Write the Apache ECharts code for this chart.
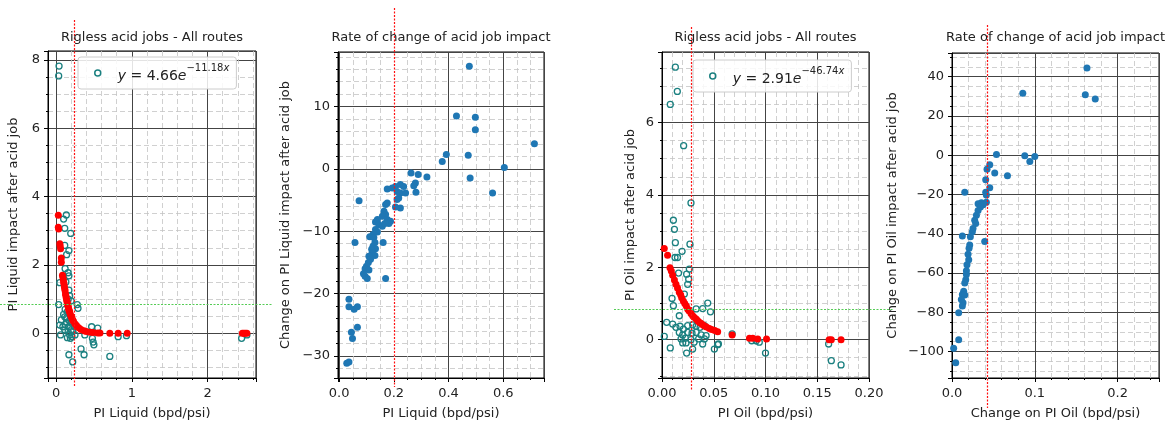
<!DOCTYPE html>
<html>
<head>
<meta charset="utf-8">
<script src="https://cdn.jsdelivr.net/npm/echarts@6/dist/echarts.min.js"></script>
<style>
  html, body { margin: 0; padding: 0; background: #fff; }
  #chart { width: 1173px; height: 425px; }
</style>
</head>
<body>
<div id="chart"></div>
<script>
// ---- data ----
const titles = ['Rigless acid jobs - All routes', 'Rate of change of acid job impact',
  'Rigless acid jobs - All routes', 'Rate of change of acid job impact']
const xNames = ['PI Liquid (bpd/psi)', 'PI Liquid (bpd/psi)', 'PI Oil (bpd/psi)', 'Change on PI Oil (bpd/psi)']
const yNames = ['PI Liquid impact after acid job', 'Change on PI Liquid impact after acid job',
  'PI Oil impact after acid job', 'Change on PI Oil impact after acid job']
const fitCoef = ['4.66', '2.91']
const fitExp = ['\u221211.18', '\u221246.74']

// cut-off reference lines
const cutX = [0.24, 0.2, 0.028, 0.042]
const cutY = [0.85, null, 0.85, null]

// PI Liquid: measured impact (open circles)
const liquidImpact = [
  [0.04, 7.82], [0.035, 7.53],
  [0.136, 3.46], [0.10, 3.34], [0.115, 3.07], [0.194, 2.92], [0.115, 2.57], [0.17, 2.42], [0.14, 2.3],
  [0.12, 1.89], [0.16, 1.77], [0.17, 1.68], [0.05, 1.48], [0.13, 1.5], [0.17, 1.26], [0.18, 1.1],
  [0.035, 0.84], [0.28, 0.84], [0.29, 0.73], [0.2, 0.95], [0.16, 1.0], [0.12, 0.7],
  [0.15, 0.63], [0.115, 0.48], [0.1, 0.55], [0.14, 0.45], [0.07, 0.39], [0.05, 0.24], [0.18, 0.35],
  [0.136, 0.32], [0.17, 0.19], [0.2, 0.10], [0.22, 0.05], [0.16, 0.05], [0.12, 0.25], [0.2, 0.3], [0.24, 0.2],
  [0.18, -0.05], [0.21, -0.1], [0.25, -0.05], [0.15, -0.13], [0.19, -0.15], [0.115, 0.1], [0.09, 0.19], [0.06, -0.05],
  [0.38, -0.05], [0.47, 0.19], [0.55, 0.15], [0.48, -0.15], [0.49, -0.26], [0.5, -0.34],
  [0.33, -0.46], [0.37, -0.63], [0.17, -0.63], [0.22, -0.84], [0.71, -0.68], [0.82, -0.1], [0.93, -0.07],
  [2.45, -0.15], [2.52, -0.05]
]
// PI Liquid: fitted impact (red)
const liquidFit = [
  [0.03, 3.45], [0.03, 3.1], [0.035, 3.05], [0.05, 2.62], [0.055, 2.55], [0.06, 2.47], [0.07, 2.2], [0.07, 2.08],
  [0.085, 1.7], [0.09, 1.65], [0.095, 1.58], [0.1, 1.5], [0.105, 1.44], [0.11, 1.36], [0.115, 1.3], [0.12, 1.24],
  [0.125, 1.15], [0.13, 1.1], [0.135, 1.03], [0.14, 0.98], [0.145, 0.92], [0.15, 0.87], [0.155, 0.82], [0.16, 0.78],
  [0.165, 0.73], [0.17, 0.69], [0.175, 0.65], [0.18, 0.62], [0.19, 0.55], [0.2, 0.49], [0.21, 0.44], [0.22, 0.39],
  [0.23, 0.35], [0.25, 0.28], [0.27, 0.23], [0.3, 0.16], [0.33, 0.11], [0.37, 0.07], [0.4, 0.05], [0.45, 0.03],
  [0.49, 0.02], [0.55, 0.01], [0.58, 0.01], [0.71, 0.0], [0.82, 0.0], [0.94, 0.0],
  [2.46, 0.0], [2.48, 0.0], [2.5, 0.0], [2.52, 0.0]
]
// PI Liquid: rate of change
const liquidRate = [
  [0.476, 16.5], [0.429, 8.5], [0.498, 8.3], [0.498, 6.3], [0.714, 4.05], [0.392, 2.3], [0.377, 1.2], [0.472, 2.2],
  [0.604, 0.25], [0.479, -1.45], [0.561, -3.85],
  [0.263, -0.65], [0.289, -0.9], [0.321, -1.3], [0.279, -2.25], [0.273, -2.7], [0.281, -3.75],
  [0.176, -3.2], [0.194, -3.05], [0.206, -2.8], [0.224, -2.5], [0.236, -2.8], [0.212, -3.6], [0.224, -3.85],
  [0.243, -3.85], [0.218, -4.65], [0.212, -4.9],
  [0.073, -5.1], [0.176, -5.45], [0.17, -5.7], [0.206, -6.1], [0.224, -6.25], [0.164, -6.8], [0.17, -7.3], [0.158, -7.6],
  [0.176, -8.1], [0.188, -8.4], [0.182, -8.75], [0.14, -8.1], [0.133, -8.5], [0.145, -8.9], [0.158, -9.2], [0.167, -8.75],
  [0.133, -9.7], [0.14, -10.1], [0.124, -10.5], [0.112, -10.9], [0.127, -11.0], [0.058, -11.8], [0.161, -11.8],
  [0.131, -11.8], [0.124, -12.4], [0.133, -12.8], [0.119, -12.9], [0.121, -13.4], [0.131, -13.9], [0.109, -14.0],
  [0.115, -14.5], [0.107, -15.0], [0.1, -15.6], [0.095, -16.0], [0.109, -16.2], [0.089, -16.8], [0.095, -17.2],
  [0.103, -17.6], [0.17, -17.6],
  [0.036, -20.9], [0.036, -22.1], [0.055, -22.5], [0.067, -22.1], [0.045, -26.2], [0.049, -27.2], [0.067, -25.4],
  [0.028, -31.2], [0.036, -31.0]
]
// PI Oil: measured impact (open circles)
const oilImpact = [
  [0.0129, 7.53], [0.0148, 6.86], [0.008, 6.5], [0.0209, 5.36], [0.028, 3.78], [0.011, 3.3], [0.012, 3.05],
  [0.0129, 2.68], [0.027, 2.64], [0.0126, 2.27], [0.015, 2.27], [0.0194, 2.44], [0.016, 1.84], [0.0264, 1.95],
  [0.0258, 1.67], [0.0248, 1.53], [0.0238, 1.81], [0.0097, 1.14], [0.011, 0.94], [0.0216, 1.26], [0.0167, 0.66],
  [0.0442, 1.01], [0.0468, 0.77], [0.033, 0.85], [0.0393, 0.86], [0.0045, 0.48], [0.0103, 0.43], [0.0022, 0.09],
  [0.008, -0.23], [0.0238, -0.37], [0.0506, -0.26], [0.0538, -0.14], [0.0678, 0.16], [0.0867, -0.03], [0.091, -0.03],
  [0.094, -0.07], [0.1, -0.37], [0.161, -0.12], [0.1636, -0.58], [0.173, -0.7],
  [0.0135, 0.34], [0.0174, 0.37], [0.0206, 0.29], [0.0248, 0.39], [0.0296, 0.41], [0.033, 0.37], [0.0368, 0.34],
  [0.041, 0.39], [0.0167, 0.2], [0.02, 0.13], [0.0248, 0.2], [0.029, 0.18], [0.033, 0.2], [0.0378, 0.13],
  [0.0426, 0.11], [0.0184, 0.02], [0.0226, 0.04], [0.028, 0.0], [0.0354, 0.02], [0.041, 0.02], [0.02, -0.09],
  [0.0232, -0.09], [0.031, -0.07], [0.0393, -0.12], [0.0296, -0.26], [0.0545, -0.12]
]
// PI Oil: fitted impact (red)
const oilFit = [
  [0.0022, 2.52], [0.0054, 2.33], [0.0077, 1.99], [0.009, 1.9], [0.0103, 1.78], [0.012, 1.65], [0.0135, 1.53],
  [0.015, 1.43], [0.0167, 1.31], [0.018, 1.24], [0.019, 1.16], [0.0206, 1.07], [0.022, 1.0], [0.0235, 0.93],
  [0.0248, 0.85], [0.026, 0.8], [0.028, 0.72], [0.0296, 0.66], [0.031, 0.62], [0.033, 0.57], [0.0345, 0.52],
  [0.036, 0.48], [0.0375, 0.45], [0.0393, 0.41], [0.041, 0.38], [0.043, 0.35], [0.0458, 0.31], [0.048, 0.28],
  [0.051, 0.25], [0.0538, 0.22], [0.0678, 0.13], [0.0845, 0.04], [0.0877, 0.04], [0.0925, 0.02], [0.101, 0.02],
  [0.1615, 0.0], [0.1636, 0.0], [0.173, 0.0]
]
// PI Oil: rate of change
const oilRate = [
  [0.163, 44.5], [0.161, 30.8], [0.173, 28.6], [0.0855, 31.6], [0.0537, 0.35], [0.0879, -0.3], [0.094, -3.2],
  [0.1, -0.7], [0.0516, -9.1], [0.067, -10.4], [0.0456, -4.9], [0.0423, -7.1], [0.0407, -12.5], [0.0456, -16.6],
  [0.0154, -18.8], [0.0407, -18.8], [0.0415, -20.2], [0.0125, -41.2], [0.0395, -44.0], [0.0081, -80.2],
  [0.0081, -94], [0.002, -98.3], [0.0045, -105.7],
  [0.0415, -23.9], [0.0355, -24.2], [0.0315, -24.7], [0.0375, -25.2], [0.0343, -26.4], [0.0315, -28.1],
  [0.0295, -30.6], [0.0274, -33.1], [0.0286, -34.8], [0.0254, -37.3], [0.0246, -39.0], [0.0222, -41.5],
  [0.0214, -45.7], [0.0206, -47.4], [0.0194, -50.4], [0.0202, -53.3], [0.0181, -55.8], [0.0174, -58.8],
  [0.0174, -60.8], [0.0166, -63.4], [0.0154, -65.1], [0.0141, -69.3], [0.0125, -70.9], [0.0154, -71.2],
  [0.0113, -73.5], [0.0133, -75.1], [0.0125, -76.8]
]

// ---- layout ----
const grids = [
  { left: 48, top: 51, width: 208, height: 329 },
  { left: 338, top: 52, width: 206, height: 327 },
  { left: 662, top: 52, width: 207, height: 327 },
  { left: 952, top: 53, width: 207, height: 328 }
]
const xRange = [[-0.106, 2.64], [-0.004, 0.749], [0, 0.2], [0, 0.25]]
const yRange = [[-1.31, 8.26], [-33.55, 18.77], [-1.06, 7.95], [-113.5, 52.1]]
const xSplit = [3, 4, 4, 3], ySplit = [5, 5, 5, 8]
const xMinor = [5, 4, 5, 5], yMinor = [4, 5, 4, 4]
const xStep = [1, 0.2, 0.05, 0.1], xDec = [0, 1, 2, 1]
const yStep = [2, 10, 2, 20]
const yNameGap = [28, 46, 25, 53]
const vSpan = [[20, 387], [8, 387], [27, 390], [25, 408]]
const hSpan = [[0, 272], null, [614, 893], null]

const FONT = 'DejaVu Sans'
const FS = 13
const TEAL = '#1b8080', RED = '#ff0000', BLUE = '#1f77b4'

function tickFmt(step, dec) {
  return function (v) {
    const k = Math.round(v / step)
    if (Math.abs(v - k * step) > step * 1e-3) return ''
    const s = (k * step).toFixed(dec)
    return s.charAt(0) === '-' ? '\u2212' + s.slice(1) : s
  }
}

function axisBase(i, isX) {
  return {
    type: 'value',
    gridIndex: i,
    min: isX ? xRange[i][0] : yRange[i][0],
    max: isX ? xRange[i][1] : yRange[i][1],
    splitNumber: isX ? xSplit[i] : ySplit[i],
    name: isX ? xNames[i] : yNames[i],
    nameLocation: 'middle',
    nameGap: isX ? 29 : yNameGap[i],
    nameTextStyle: { fontSize: FS, color: '#222', fontFamily: FONT },
    axisLine: { show: true, onZero: false, lineStyle: { color: '#000', width: 1 } },
    axisTick: { show: true, length: 4, lineStyle: { color: '#000' } },
    minorTick: { show: true, splitNumber: isX ? xMinor[i] : yMinor[i], length: 2, lineStyle: { color: '#000' } },
    axisLabel: {
      fontSize: FS, color: '#222', fontFamily: FONT, margin: isX ? 9 : 8,
      formatter: isX ? tickFmt(xStep[i], xDec[i]) : tickFmt(yStep[i], 0)
    },
    splitLine: { show: true, lineStyle: { color: '#444', width: 1 } },
    minorSplitLine: { show: true, lineStyle: { color: '#c4c4c4', width: 0.8, type: [5, 3] } }
  }
}

function fitLegend(i, seriesName) {
  return {
    left: i === 0 ? 78 : 693,
    top: i === 0 ? 57 : 60,
    data: [seriesName],
    selectedMode: false,
    orient: 'vertical',
    padding: [6, 7, 6, 16],
    itemWidth: 30,
    itemHeight: 6,
    icon: 'circle',
    itemStyle: { color: 'rgba(255,255,255,0)', borderColor: TEAL, borderWidth: 1.5 },
    backgroundColor: 'rgba(255,255,255,0.85)',
    borderColor: '#ccc',
    borderWidth: 1,
    borderRadius: 3,
    formatter: function () {
      return '{i|y}{n| = ' + fitCoef[i] + '}{i|e}{s|' + fitExp[i] + '}{si|x}'
    },
    textStyle: {
      rich: {
        i: { fontFamily: FONT, fontStyle: 'italic', fontSize: 14, lineHeight: 20, verticalAlign: 'bottom', color: '#222' },
        n: { fontFamily: FONT, fontSize: 14, lineHeight: 20, verticalAlign: 'bottom', color: '#222' },
        s: { fontFamily: FONT, fontSize: 10, lineHeight: 10, verticalAlign: 'top', color: '#222' },
        si: { fontFamily: FONT, fontStyle: 'italic', fontSize: 10, lineHeight: 10, verticalAlign: 'top', color: '#222' }
      }
    }
  }
}

function openCircles(name, idx, data) {
  return {
    name: name, type: 'scatter', xAxisIndex: idx, yAxisIndex: idx, data: data,
    symbol: 'circle', symbolSize: 6,
    itemStyle: { color: 'rgba(255,255,255,0)', borderColor: TEAL, borderWidth: 1.3, opacity: 1 },
    emphasis: { disabled: true }
  }
}
function dots(name, idx, data, color) {
  return {
    name: name, type: 'scatter', xAxisIndex: idx, yAxisIndex: idx, data: data,
    symbol: 'circle', symbolSize: 7,
    itemStyle: { color: color, opacity: 1 },
    emphasis: { disabled: true }
  }
}

const chart = echarts.init(document.getElementById('chart'), null, { renderer: 'canvas' })
const option = {
  animation: false,
  textStyle: { fontFamily: FONT },
  grid: grids.map(g => Object.assign({ show: true, borderColor: '#000', borderWidth: 1, backgroundColor: 'transparent' }, g)),
  xAxis: grids.map((g, i) => axisBase(i, true)),
  yAxis: grids.map((g, i) => axisBase(i, false)),
  legend: [fitLegend(0, 'liquidFitLegend'), fitLegend(1, 'oilFitLegend')],
  series: [
    openCircles('liquidFitLegend', 0, liquidImpact),
    dots('liquidFit', 0, liquidFit, RED),
    dots('liquidRate', 1, liquidRate, BLUE),
    openCircles('oilFitLegend', 2, oilImpact),
    dots('oilFit', 2, oilFit, RED),
    dots('oilRate', 3, oilRate, BLUE)
  ]
}
chart.setOption(option)

// titles and cut-off lines
const graphics = []
titles.forEach((t, i) => {
  graphics.push({
    type: 'text', x: grids[i].left + grids[i].width / 2, y: 38, z: 20,
    style: { text: t, fontSize: FS, fontFamily: FONT, fill: '#222',
      align: 'center', verticalAlign: 'middle', textAlign: 'center', textVerticalAlign: 'middle' }
  })
})
cutX.forEach((v, i) => {
  const p = chart.convertToPixel({ xAxisIndex: i, yAxisIndex: i }, [v, 0])
  const x = Math.round(p[0]) + 0.5
  // white underlay (below the points) so the dotted line reads over a coinciding grid line
  graphics.push({
    type: 'line', z: 1,
    shape: { x1: x, y1: grids[i].top + 1, x2: x, y2: grids[i].top + grids[i].height - 1 },
    style: { stroke: '#fff', lineWidth: 1 }
  })
  graphics.push({
    type: 'line', z: 15,
    shape: { x1: x, y1: vSpan[i][0], x2: x, y2: vSpan[i][1] },
    style: { stroke: '#ff1010', lineWidth: 1.2, lineDash: [2, 1.5] }
  })
})
cutY.forEach((v, i) => {
  if (v === null) return
  const p = chart.convertToPixel({ xAxisIndex: i, yAxisIndex: i }, [0, v])
  const y = Math.round(p[1]) + 0.5
  graphics.push({
    type: 'line', z: 15,
    shape: { x1: hSpan[i][0], y1: y, x2: hSpan[i][1], y2: y },
    style: { stroke: '#55cc55', lineWidth: 1.2, lineDash: [2, 1.5] }
  })
})
chart.setOption({ graphic: graphics })
</script>
</body>
</html>
